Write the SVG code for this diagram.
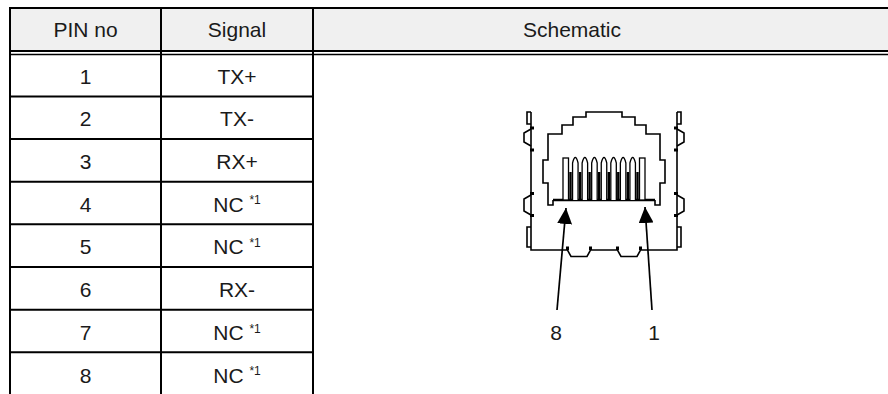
<svg xmlns="http://www.w3.org/2000/svg" xmlns:xlink="http://www.w3.org/1999/xlink" width="888" height="394" viewBox="0 0 888 394">
<style>
.t{font-family:"Liberation Sans",Arial,sans-serif;font-size:21px;fill:#1a1a1a;text-anchor:middle}
.sup{font-size:12px}
.ln{stroke:#000;stroke-width:2;fill:none}
.dr{stroke:#000;stroke-width:1.6;fill:none}
.blk{fill:#000}
.arr{stroke:#000;stroke-width:1.7;fill:none}
</style>
<defs>
<marker id="ah" markerUnits="userSpaceOnUse" markerWidth="16" markerHeight="15" refX="16" refY="7.5" orient="auto">
<path d="M0,0 L16,7.5 L0,15 z" fill="#000"/>
</marker>
<g id="halfL">
<path class="dr" d="M604,112 H586 V117 H573 V125 H562 V134 H548 V160 H543 V183 H548 V205 H553 V200"/>
<path d="M553,200 H604" stroke="#000" stroke-width="2.6"/>
<path class="dr" d="M531,112 V250 H567.5 L571,256.5 H587 L590.5,250 H604"/>
<path class="dr" d="M531,129 L524,133 V142 L531,146"/>
<path class="dr" d="M531,195 L524,199 V211 L531,215"/>
<path class="dr" d="M531,227 H527 V247 H531"/>
<path class="dr" d="M531,112 H527 V124 H531"/>
<rect class="blk" x="530" y="126.5" width="4" height="3"/>
<rect class="blk" x="530" y="148.5" width="4" height="3"/>
<rect class="blk" x="530" y="192" width="4" height="3"/>
<rect class="blk" x="530" y="214" width="4" height="3"/>
<rect class="blk" x="566" y="246.5" width="3" height="3.5"/>
<rect class="blk" x="589" y="246.5" width="3" height="3.5"/>
</g>
</defs>

<g id="table">
<rect x="10" y="8" width="878" height="43" fill="#f0f0f0"/>
<path class="ln" d="M10,8 H888"/>
<path class="ln" d="M10,51 H888"/>
<path d="M10,54.5 H888" stroke="#000" stroke-width="1.6"/>
<path class="ln" d="M10,7 V394 M161,7 V394 M313,7 V394"/>
<path class="ln" d="M10,96.5 H313 M10,139 H313 M10,181.7 H313 M10,224.3 H313 M10,267 H313 M10,309.7 H313 M10,352.3 H313"/>
</g>

<g id="header">
<text class="t" x="85.5" y="37">PIN no</text>
<text class="t" x="237" y="37">Signal</text>
<text class="t" x="572" y="37">Schematic</text>
</g>

<g id="row1"><text class="t" x="85.5" y="83.5">1</text><text class="t" x="237" y="83.5">TX+</text></g>
<g id="row2"><text class="t" x="85.5" y="126">2</text><text class="t" x="237" y="126">TX-</text></g>
<g id="row3"><text class="t" x="85.5" y="169">3</text><text class="t" x="237" y="169">RX+</text></g>
<g id="row4"><text class="t" x="85.5" y="211.5">4</text><text class="t" x="237" y="211.5">NC <tspan class="sup" dy="-7.5">*1</tspan></text></g>
<g id="row5"><text class="t" x="85.5" y="254">5</text><text class="t" x="237" y="254">NC <tspan class="sup" dy="-7.5">*1</tspan></text></g>
<g id="row6"><text class="t" x="85.5" y="297">6</text><text class="t" x="237" y="297">RX-</text></g>
<g id="row7"><text class="t" x="85.5" y="340">7</text><text class="t" x="237" y="340">NC <tspan class="sup" dy="-7.5">*1</tspan></text></g>
<g id="row8"><text class="t" x="85.5" y="382.5">8</text><text class="t" x="237" y="382.5">NC <tspan class="sup" dy="-7.5">*1</tspan></text></g>

<g id="rj45">
<use xlink:href="#halfL" href="#halfL"/>
<use xlink:href="#halfL" href="#halfL" transform="matrix(-1 0 0 1 1208 0)"/>
<g id="contacts" stroke="#000" fill="#fff" stroke-width="1.3">
<rect x="563" y="158" width="5.5" height="42"/>
<path d="M572.56,200 V163 Q575.31,152 578.06,163 V200"/>
<path d="M582.12,200 V163 Q584.87,152 587.62,163 V200"/>
<path d="M591.68,200 V163 Q594.43,152 597.18,163 V200"/>
<path d="M601.25,200 V163 Q604,152 606.75,163 V200"/>
<path d="M610.81,200 V163 Q613.56,152 616.31,163 V200"/>
<path d="M620.37,200 V163 Q623.12,152 625.87,163 V200"/>
<path d="M629.93,200 V163 Q632.68,152 635.43,163 V200"/>
<rect x="639.5" y="158" width="5.5" height="42"/>
</g>
<path stroke="#000" stroke-width="2.4" d="M570.5,172 V200 M580.1,172 V200 M589.6,172 V200 M599.2,172 V200 M608.8,172 V200 M618.3,172 V200 M627.9,172 V200 M637.5,172 V200"/>
</g>

<g id="connectors">
<line class="arr" x1="557" y1="310" x2="566" y2="208" marker-end="url(#ah)"/>
<line class="arr" x1="652" y1="310" x2="645" y2="207" marker-end="url(#ah)"/>
</g>
<g id="labels">
<text class="t" x="556" y="340">8</text>
<text class="t" x="654" y="340">1</text>
</g>
</svg>
